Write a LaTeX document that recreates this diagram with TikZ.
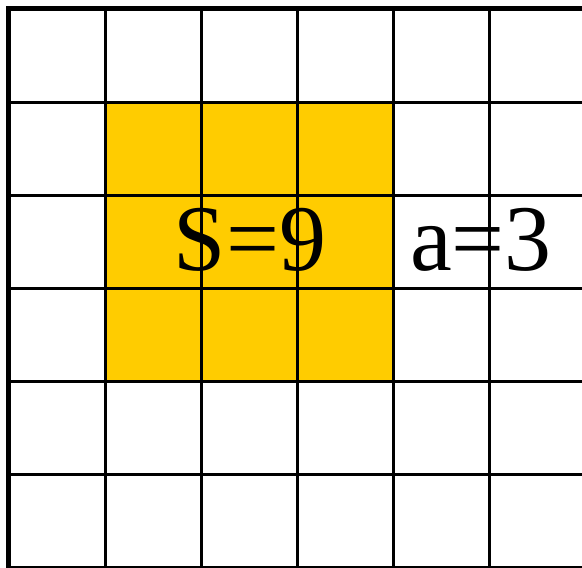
\documentclass[tikz,border=0pt]{standalone}
\usepackage{fontspec}
\setmainfont{Liberation Serif}
\usetikzlibrary{positioning}
\definecolor{cGold}{RGB}{255,204,0}
\tikzset{
	gridline/.style={line width=3pt, black},
	border/.style={line width=5pt, black},
	bigtext/.style={font=\fontsize{94}{94}\selectfont, inner sep=0pt},
}
\begin{document}
\begin{tikzpicture}[x=1pt, y=-1pt]
	\useasboundingbox (0,0) rectangle (582,568);
	% shaded square
	\fill[cGold] (105,102) rectangle (393,381);
	\node[bigtext, anchor=base] (area) at (250,270) {S=9};
	\node[bigtext, anchor=base] (side) at (481,270) {a=3};
	% grid
	\foreach \x in {105,201,297,393,489}
		\draw[gridline] (\x,8) -- (\x,568);
	\foreach \y in {102,195,288,381,474,567}
		\draw[gridline] (8,\y) -- (582,\y);
	\draw[border] (8,568) -- (8,8) -- (582,8);
\end{tikzpicture}
\end{document}
